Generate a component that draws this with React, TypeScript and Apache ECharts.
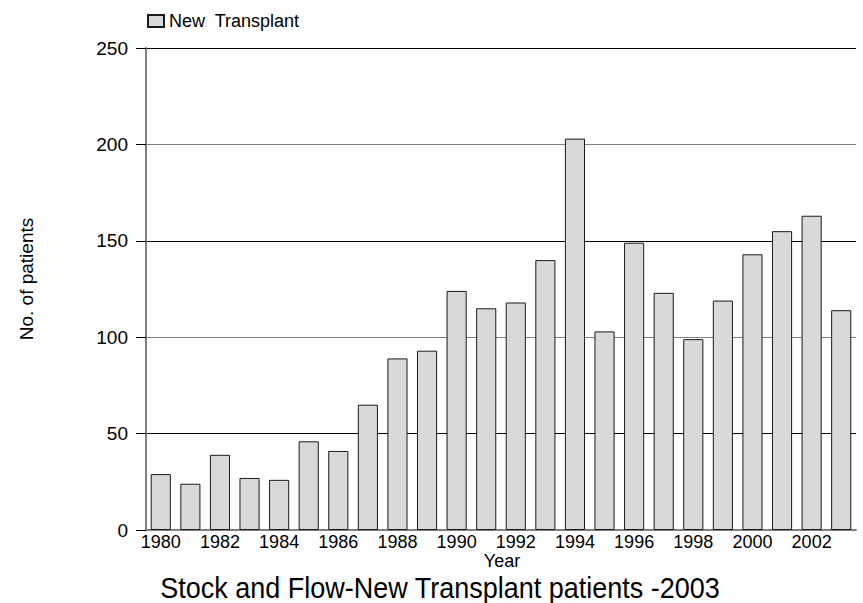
import React, { useEffect, useRef } from "react";
import * as echarts from "echarts";

const years = ["1980","1981","1982","1983","1984","1985","1986","1987","1988","1989","1990","1991","1992","1993","1994","1995","1996","1997","1998","1999","2000","2001","2002","2003"];
const newTransplant = [29, 24, 39, 27, 26, 46, 41, 65, 89, 93, 124, 115, 118, 140, 203, 103, 149, 123, 99, 119, 143, 155, 163, 114];
const seriesName = "New  Transplant";
const yTitle = "No. of patients";
const xTitle = "Year";
const chartTitle = "Stock and Flow-New Transplant patients -2003";

export default function App() {
  const ref = useRef<HTMLDivElement>(null);
  useEffect(() => {
    if (!ref.current) return;
    const chart = echarts.init(ref.current, undefined, { renderer: "svg" });
    const font = "'Liberation Sans', Arial, sans-serif";
    chart.setOption({
      animation: false,
      backgroundColor: "#fff",
      textStyle: { fontFamily: font },
      grid: { left: 146, right: 7, top: 48, bottom: 73, containLabel: false },
      legend: {
        left: 142,
        top: 7,
        itemWidth: 16,
        itemHeight: 12,
        itemGap: 6,
        icon: "rect",
        textStyle: { fontSize: 18, color: "#000", fontFamily: font },
        data: [seriesName],
      },
      xAxis: {
        type: "category",
        data: years,
        axisLine: { lineStyle: { color: "#808080", width: 2 } },
        axisTick: { show: false },
        axisLabel: { interval: 1, color: "#000", fontSize: 18, margin: 3, fontFamily: font },
      },
      yAxis: {
        type: "value",
        min: 0,
        max: 250,
        interval: 50,
        axisLine: { show: true, lineStyle: { color: "#808080", width: 2 } },
        axisTick: { show: true, length: 10, lineStyle: { color: "#000" } },
        axisLabel: { color: "#000", fontSize: 19, margin: 18, fontFamily: font },
        splitLine: { lineStyle: { color: ["#808080", "#000", "#808080", "#000", "#808080", "#000"], width: 1 } },
      },
      series: [
        {
          name: seriesName,
          type: "bar",
          data: newTransplant,
          barCategoryGap: "32%",
          itemStyle: { color: "#d9d9d9", borderColor: "#1a1a1a", borderWidth: 1 },
        },
      ],
      graphic: [
        {
          type: "text",
          x: 26,
          y: 279,
          rotation: Math.PI / 2,
          style: { text: yTitle, font: `19px ${font}`, fill: "#000", textAlign: "center", textVerticalAlign: "middle" },
        },
        {
          type: "text",
          x: 502,
          y: 561,
          style: { text: xTitle, font: `18px ${font}`, fill: "#000", textAlign: "center", textVerticalAlign: "middle" },
        },
        {
          type: "text",
          x: 440,
          y: 587,
          scaleX: 0.9,
          style: { text: chartTitle, font: `30px ${font}`, fill: "#000", textAlign: "center", textVerticalAlign: "middle" },
        },
      ],
    });
    return () => chart.dispose();
  }, []);
  return <div ref={ref} style={{ width: 863, height: 603, position: "absolute", left: 0, top: 0 }} />;
}
